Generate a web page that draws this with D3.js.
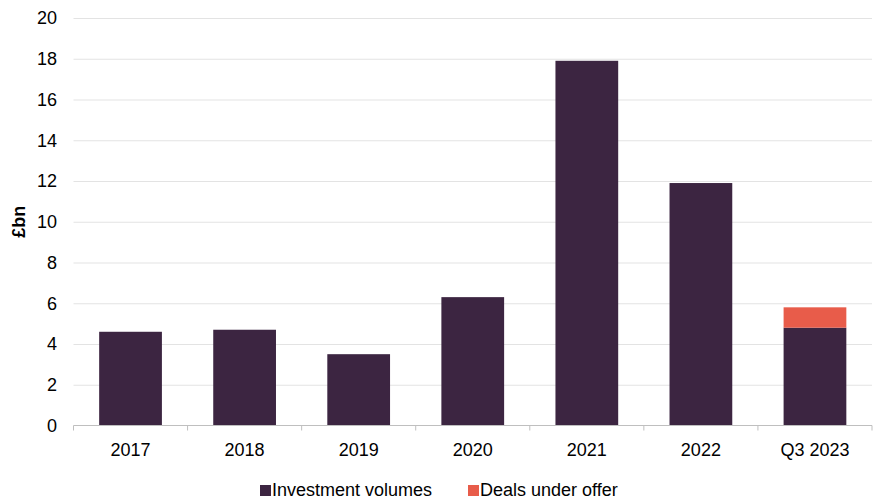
<!DOCTYPE html>
<html lang="en">
<head>
<meta charset="UTF-8">
<title>Investment volumes</title>
<script src="https://cdn.jsdelivr.net/npm/d3@7"></script>
<style>
body { margin: 0; background: #fff; }
svg { display: block; font-family: "Liberation Sans", Arial, sans-serif; }
.grid line { stroke: #e3e3e3; }
.grid path { display: none; }
</style>
</head>
<body>
<script>
const categories = ["2017", "2018", "2019", "2020", "2021", "2022", "Q3 2023"];
const investment = [4.6, 4.7, 3.5, 6.3, 17.9, 11.9, 4.8];
const underOffer = [0, 0, 0, 0, 0, 0, 1.0];
const seriesNames = ["Investment volumes", "Deals under offer"];
const colours = ["#3c2541", "#e85c4a"];
const yTicks = [0, 2, 4, 6, 8, 10, 12, 14, 16, 18, 20];

const width = 874, height = 501;
const margin = { top: 18, right: 2, bottom: 75, left: 73.5 };

const svg = d3.select("body").append("svg")
    .attr("width", width)
    .attr("height", height);

const x = d3.scaleBand()
    .domain(categories)
    .range([margin.left, width - margin.right])
    .paddingInner(0.45)
    .paddingOuter(0.225);

const y = d3.scaleLinear()
    .domain([0, 20])
    .range([height - margin.bottom - 0.5, margin.top]);

// gridlines
svg.append("g")
    .attr("class", "grid")
    .attr("transform", `translate(${margin.left},0)`)
    .call(d3.axisLeft(y).tickValues(yTicks.slice(1)).tickSize(-(width - margin.right - margin.left)).tickFormat(""));

// y tick labels
svg.append("g")
    .selectAll("text")
    .data(yTicks)
    .enter()
    .append("text")
    .attr("x", 57)
    .attr("y", d => y(d))
    .attr("dy", "0.35em")
    .attr("text-anchor", "end")
    .attr("font-size", 18)
    .attr("fill", "#000")
    .text(d => d);

svg.append("text")
    .attr("transform", `translate(18.5,${(y(0) + y(20)) / 2}) rotate(-90)`)
    .attr("text-anchor", "middle")
    .attr("dy", "0.35em")
    .attr("font-size", 18)
    .attr("font-weight", "bold")
    .text("£bn");

// stacked bars
const rows = categories.map((c, i) => ({ cat: c, inv: investment[i], off: underOffer[i] }));
const stack = d3.stack().keys(["inv", "off"])(rows);

svg.append("g")
    .selectAll("g")
    .data(stack)
    .enter()
    .append("g")
    .attr("fill", (d, i) => colours[i])
    .selectAll("rect")
    .data(d => d.filter(p => p[1] > p[0]))
    .enter()
    .append("rect")
    .attr("x", d => x(d.data.cat))
    .attr("y", d => y(d[1]))
    .attr("width", x.bandwidth())
    .attr("height", d => y(d[0]) - y(d[1]));

// x axis with boundary ticks
const base = y(0);
const step = x.step();
const xAxis = svg.append("g");
xAxis.append("line")
    .attr("x1", margin.left).attr("x2", width - margin.right)
    .attr("y1", base).attr("y2", base)
    .attr("stroke", "#bfbfbf");
xAxis.selectAll(".tick")
    .data(d3.range(categories.length + 1))
    .enter()
    .append("line")
    .attr("x1", i => margin.left + i * step)
    .attr("x2", i => margin.left + i * step)
    .attr("y1", base).attr("y2", base + 5)
    .attr("stroke", "#bfbfbf");
xAxis.selectAll("text")
    .data(categories)
    .enter()
    .append("text")
    .attr("x", d => x(d) + x.bandwidth() / 2)
    .attr("y", base + 30)
    .attr("text-anchor", "middle")
    .attr("font-size", 18)
    .text(d => d);

// legend
const legendX = [260, 468];
const legend = svg.append("g")
    .selectAll("g")
    .data(seriesNames)
    .enter()
    .append("g")
    .attr("transform", (d, i) => `translate(${legendX[i]},485)`);
legend.append("rect")
    .attr("width", 11).attr("height", 11)
    .attr("fill", (d, i) => colours[i]);
legend.append("text")
    .attr("x", 12)
    .attr("y", 11)
    .attr("font-size", 18)
    .text(d => d);
</script>
</body>
</html>
